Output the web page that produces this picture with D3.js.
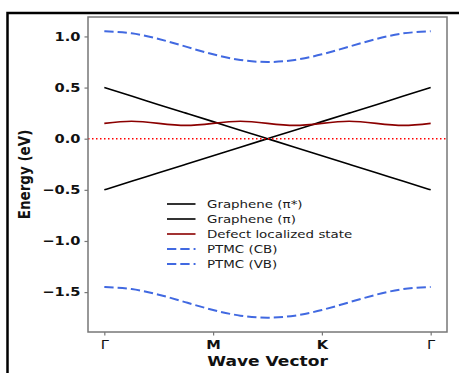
<!DOCTYPE html>
<html>
<head>
<meta charset="utf-8">
<script src="https://cdn.jsdelivr.net/npm/d3@7"></script>
<style>
  html, body { margin: 0; padding: 0; background: #fff; }
  svg { display: block; }
</style>
</head>
<body>
<svg id="chart" width="459" height="373"></svg>
<script>
// ─── Data ────────────────────────────────────────────────────────────────────

// k-path positions (Γ = 0, M = 1, K = 2, Γ = 3)
const kPath = [0, 0.25, 0.5, 0.75, 1, 1.25, 1.5, 1.75, 2, 2.25, 2.5, 2.75, 3];

const grapheneStar = [0.5, 0.417, 0.333, 0.25, 0.167, 0.083, 0, -0.083, -0.167, -0.25, -0.333, -0.417, -0.5];
const graphenePi   = [-0.5, -0.417, -0.333, -0.25, -0.167, -0.083, 0, 0.083, 0.167, 0.25, 0.333, 0.417, 0.5];
const defectState  = [0.15, 0.17, 0.15, 0.13, 0.15, 0.17, 0.15, 0.13, 0.15, 0.17, 0.15, 0.13, 0.15];
const ptmcCB       = [1.05, 1.03, 0.975, 0.9, 0.825, 0.77, 0.75, 0.77, 0.825, 0.9, 0.975, 1.03, 1.05];
const ptmcVB       = [-1.45, -1.47, -1.525, -1.6, -1.675, -1.73, -1.75, -1.73, -1.675, -1.6, -1.525, -1.47, -1.45];

const seriesNames = ['Graphene (π*)', 'Graphene (π)', 'Defect localized state', 'PTMC (CB)', 'PTMC (VB)'];

const xTickPos    = [0, 1, 2, 3];
const xTickLabels = ['Γ', 'M', 'K', 'Γ'];
const yTickVals   = [-1.5, -1.0, -0.5, 0.0, 0.5, 1.0];

// ─── Setup ───────────────────────────────────────────────────────────────────

const FONT = '"DejaVu Sans", sans-serif';
const SX = 1.22;   // the reference picture is stretched sideways
const DASH = '9.3,4';

const svg = d3.select('#chart');

svg.append('rect')
  .attr('width', 459).attr('height', 373)
  .attr('fill', '#fff');

// outer frame
svg.append('rect')
  .attr('x', 7.5).attr('y', 13)
  .attr('width', 480).attr('height', 400)
  .attr('fill', 'none')
  .attr('stroke', '#000')
  .attr('stroke-width', 2.5);

const box = { left: 88, right: 447, top: 17, bottom: 332 };

const x = d3.scaleLinear().domain([-0.15, 3.15]).range([box.left, box.right]);
const y = d3.scaleLinear().domain([-1.89, 1.19]).range([box.bottom, box.top]);

// ─── Axes ────────────────────────────────────────────────────────────────────

function stretchText(sel) {
  sel.selectAll('text')
    .attr('transform', `scale(${SX},1)`)
    .attr('x', function () { return +d3.select(this).attr('x') / SX; });
}

const yAxis = svg.append('g')
  .attr('transform', `translate(${box.left},0)`)
  .call(d3.axisLeft(y)
    .tickValues(yTickVals)
    .tickSize(3.5)
    .tickPadding(4)
    .tickFormat(d => d3.format('.1f')(d).replace('-', '−')));

const xAxis = svg.append('g')
  .attr('transform', `translate(0,${box.bottom})`)
  .call(d3.axisBottom(x)
    .tickValues(xTickPos)
    .tickSize(3.5)
    .tickPadding(4.5)
    .tickFormat((d, i) => xTickLabels[i]));

[xAxis, yAxis].forEach(ax => {
  ax.select('.domain').remove();
  ax.selectAll('line').attr('stroke', '#777').attr('stroke-width', 1.2);
  ax.selectAll('text')
    .attr('fill', '#111')
    .style('font-family', FONT)
    .style('font-size', '12px')
    .style('font-weight', 'bold');
  stretchText(ax);
});

// Γ comes out of mathtext, so it is not bold
xAxis.selectAll('text')
  .filter(function () { return this.textContent === 'Γ'; })
  .style('font-weight', 'normal');

// ─── Lines ───────────────────────────────────────────────────────────────────

const line = d3.line()
  .x((d, i) => x(kPath[i]))
  .y(d => y(d))
  .curve(d3.curveNatural);

const series = [
  { values: grapheneStar, color: '#000',    width: 1.6, dash: null },
  { values: graphenePi,   color: '#000',    width: 1.6, dash: null },
  { values: defectState,  color: '#8b0000', width: 1.6, dash: null },
  { values: ptmcCB,       color: '#4169e1', width: 2,   dash: DASH },
  { values: ptmcVB,       color: '#4169e1', width: 2,   dash: DASH },
];

series.forEach(s => {
  svg.append('path')
    .attr('d', line(s.values))
    .attr('fill', 'none')
    .attr('stroke', s.color)
    .attr('stroke-width', s.width)
    .attr('stroke-dasharray', s.dash);
});

// Fermi level
svg.append('line')
  .attr('x1', box.left).attr('x2', box.right)
  .attr('y1', y(0)).attr('y2', y(0))
  .attr('stroke', '#ff0000')
  .attr('stroke-width', 1.5)
  .attr('stroke-dasharray', '1.5,2.5');

// spines
svg.append('rect')
  .attr('x', box.left).attr('y', box.top)
  .attr('width', box.right - box.left).attr('height', box.bottom - box.top)
  .attr('fill', 'none')
  .attr('stroke', '#777')
  .attr('stroke-width', 1.5);

// ─── Labels ──────────────────────────────────────────────────────────────────

svg.append('text')
  .attr('transform', `translate(${(box.left + box.right) / 2},365.5) scale(${SX},1)`)
  .attr('text-anchor', 'middle')
  .style('font-family', FONT)
  .style('font-size', '14px')
  .style('font-weight', 'bold')
  .attr('fill', '#111')
  .text('Wave Vector');

svg.append('text')
  .attr('transform', `translate(30,${(box.top + box.bottom) / 2}) rotate(-90) scale(1,${SX})`)
  .attr('text-anchor', 'middle')
  .style('font-family', FONT)
  .style('font-size', '13.5px')
  .style('font-weight', 'bold')
  .attr('fill', '#111')
  .text('Energy (eV)');

// ─── Legend ──────────────────────────────────────────────────────────────────

const legend = svg.append('g').attr('transform', 'translate(167,204)');

series.forEach((s, i) => {
  const row = legend.append('g').attr('transform', `translate(0,${i * 15})`);
  row.append('line')
    .attr('x1', 0).attr('x2', 28.5)
    .attr('stroke', s.color)
    .attr('stroke-width', s.width)
    .attr('stroke-dasharray', s.dash);
  row.append('text')
    .attr('transform', `translate(40,4) scale(${SX},1)`)
    .style('font-family', FONT)
    .style('font-size', '11px')
    .attr('fill', '#1a1a1a')
    .text(seriesNames[i]);
});
</script>
</body>
</html>
